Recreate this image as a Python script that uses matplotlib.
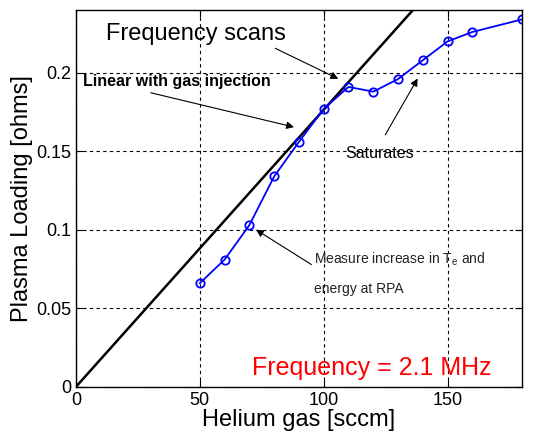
import numpy as np
import matplotlib
matplotlib.use('Agg')
import matplotlib.pyplot as plt

plt.rcParams['font.family'] = ['Liberation Sans', 'DejaVu Sans']

# measured plasma loading vs helium flow
helium = [50, 60, 70, 80, 90, 100, 110, 120, 130, 140, 150, 160, 180]
loading = [0.066, 0.081, 0.103, 0.134, 0.156, 0.177, 0.191, 0.188, 0.196, 0.208, 0.220, 0.226, 0.234]

# linear trend line
lin_x = [0, 140]
lin_y = [0, 0.247]

fig = plt.figure(figsize=(5.47, 4.36), dpi=100)
ax = fig.add_axes([0.139, 0.113, 0.815, 0.864])

ax.plot(lin_x, lin_y, color='black', lw=1.8)
ax.plot(helium, loading, color='blue', lw=1.3, marker='o', ms=6, mfc='none', mec='blue', mew=1.3)

ax.set_xlim(0, 180)
ax.set_ylim(0, 0.24)
ax.set_xticks([0, 50, 100, 150])
ax.set_yticks([0, 0.05, 0.1, 0.15, 0.2])
ax.set_yticklabels(['0', '0.05', '0.1', '0.15', '0.2'])
ax.grid(True, color='black', ls=(0, (3, 3)), lw=0.8)
ax.tick_params(direction='in', top=True, right=True, labelsize=13, length=5)
for s in ax.spines.values():
    s.set_linewidth(1.0)

ax.set_xlabel('Helium gas [sccm]', fontsize=17, labelpad=0)
ax.set_ylabel('Plasma Loading [ohms]', fontsize=17, labelpad=2)

arr = dict(arrowstyle='-|>', color='black', lw=0.8, mutation_scale=11)
ax.text(12, 0.225, 'Frequency scans', fontsize=17, va='center')
ax.annotate('', xy=(106.9, 0.1954), xytext=(79.4, 0.2164), arrowprops=arr)
ax.text(2.8, 0.1947, 'Linear with gas injection', fontsize=11.5, fontweight='bold', va='center')
ax.annotate('', xy=(89.1, 0.165), xytext=(29.1, 0.1877), arrowprops=arr)
ax.text(108.9, 0.1489, 'Saturates', fontsize=11.5, va='center')
ax.annotate('', xy=(138.5, 0.1979), xytext=(124.3, 0.159), arrowprops=arr)
ax.text(96, 0.0813, 'Measure increase in T$_\\mathregular{e}$ and', fontsize=10, va='center', color='#222222')
ax.text(96, 0.0622, 'energy at RPA', fontsize=10, va='center', color='#222222')
ax.annotate('', xy=(71.7, 0.101), xytext=(96, 0.0769), arrowprops=arr)
ax.text(70.9, 0.0119, 'Frequency = 2.1 MHz', fontsize=18, color='red', va='center')

fig.savefig('out.png', dpi=100)
